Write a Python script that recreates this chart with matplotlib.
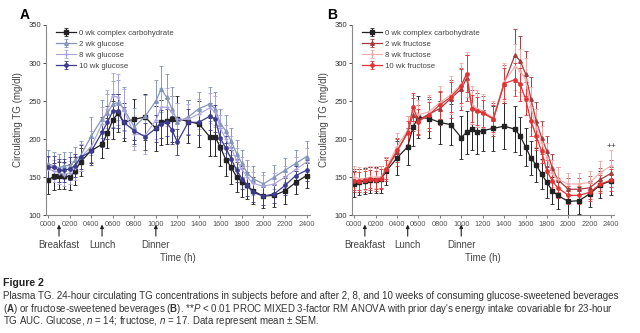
import numpy as np
import matplotlib
matplotlib.use("Agg")
import matplotlib.pyplot as plt
from matplotlib.transforms import blended_transform_factory

plt.rcParams["font.family"] = ["Liberation Sans", "DejaVu Sans"]
plt.rcParams["mathtext.fontset"] = "custom"
plt.rcParams["mathtext.rm"] = "Liberation Sans"
plt.rcParams["mathtext.it"] = "Liberation Sans:italic"
plt.rcParams["mathtext.bf"] = "Liberation Sans:bold"

# sample times (h after start)
times_a = [0, 0.5, 1, 1.5, 2, 2.5, 3, 4, 5, 5.5, 6, 6.5, 7, 8, 9, 10, 10.5, 11, 11.5, 12,
           13, 14, 15, 15.5, 16, 16.5, 17, 17.5, 18, 18.5, 19, 20, 21, 22, 23, 24]
times_b = [0, 0.5, 1, 1.5, 2, 2.5, 3, 4, 5, 5.5, 6, 7, 8, 9, 10, 10.5, 11, 11.5, 12,
           13, 14, 15, 15.5, 16, 16.5, 17, 17.5, 18, 18.5, 19, 20, 21, 22, 23, 24]

# panel A: glucose
a_0wk = [146, 151, 152, 152, 150, 158, 170, 185, 193, 208, 225, 234, 222, 226, 229, 214, 222, 224,
         226, 227, 223, 220, 203, 203, 189, 173, 163, 150, 144, 139, 132, 125, 126, 132, 143, 152]
a_0wk_sem = [18, 18, 18, 18, 17, 18, 18, 17, 18, 20, 25, 25, 25, 27, 30, 30, 30, 30, 30, 30,
             28, 30, 25, 25, 25, 22, 22, 20, 20, 18, 18, 15, 15, 17, 15, 17]
a_2wk = [167, 165, 162, 165, 165, 172, 178, 204, 227, 234, 246, 248, 240, 216, 230, 250, 266, 255,
         240, 222, 229, 240, 246, 240, 220, 211, 197, 181, 168, 155, 148, 141, 150, 159, 168, 177]
a_2wk_sem = [18, 18, 18, 18, 18, 18, 20, 25, 25, 25, 30, 30, 28, 25, 28, 28, 30, 30, 28, 25,
             22, 22, 22, 22, 20, 20, 18, 18, 18, 17, 17, 16, 16, 16, 18, 20]
a_8wk = [161, 158, 156, 153, 156, 162, 176, 190, 220, 240, 257, 255, 238, 207, 205, 225, 242, 242,
         235, 226, 226, 233, 241, 236, 214, 200, 188, 172, 160, 150, 142, 138, 141, 150, 160, 170]
a_8wk_sem = [15, 15, 15, 15, 15, 16, 18, 20, 22, 25, 30, 30, 28, 22, 25, 25, 25, 25, 22, 22,
             20, 20, 20, 20, 18, 18, 16, 16, 16, 15, 15, 15, 15, 15, 16, 18]
a_10wk = [163, 163, 159, 159, 161, 165, 176, 184, 209, 222, 237, 237, 222, 211, 203, 214, 220, 222,
          212, 196, 222, 222, 230, 227, 201, 188, 174, 159, 148, 139, 130, 125, 128, 139, 152, 159]
a_10wk_sem = [15, 15, 15, 15, 15, 15, 16, 18, 20, 22, 22, 22, 20, 18, 18, 18, 18, 18, 18, 17,
              17, 17, 18, 18, 16, 16, 15, 15, 14, 14, 13, 12, 12, 12, 13, 14]

# panel B: fructose
b_0wk = [141, 144, 145, 146, 146, 147, 158, 175, 190, 216, 229, 227, 222, 219, 202, 209, 213, 209,
         211, 214, 217, 213, 204, 190, 175, 166, 154, 143, 132, 126, 118, 119, 128, 140, 145]
b_0wk_sem = [17, 17, 17, 17, 17, 18, 18, 22, 24, 25, 28, 26, 28, 27, 28, 28, 27, 28, 27, 30,
             30, 30, 25, 25, 22, 22, 20, 20, 18, 18, 18, 18, 17, 18, 18]
b_2wk = [146, 145, 146, 148, 147, 149, 160, 183, 210, 232, 225, 233, 240, 253, 266, 280, 242, 238,
         235, 226, 273, 310, 303, 286, 253, 224, 202, 184, 162, 147, 134, 134, 136, 147, 155]
b_2wk_sem = [15, 15, 15, 15, 15, 15, 15, 18, 20, 22, 20, 22, 22, 25, 28, 30, 22, 22, 22, 22,
             25, 35, 32, 30, 28, 25, 22, 20, 18, 16, 15, 15, 15, 15, 18]
b_8wk = [150, 148, 148, 150, 150, 150, 162, 190, 212, 238, 232, 236, 248, 258, 272, 285, 245, 240,
         237, 228, 275, 295, 290, 278, 242, 215, 195, 175, 155, 147, 141, 141, 143, 156, 165]
b_8wk_sem = [15, 15, 15, 15, 15, 15, 15, 18, 18, 20, 20, 22, 22, 25, 28, 30, 25, 24, 22, 22,
             25, 30, 28, 28, 26, 25, 22, 20, 18, 16, 15, 15, 15, 15, 20]
b_10wk = [145, 145, 146, 147, 146, 148, 160, 185, 208, 242, 223, 232, 245, 255, 270, 286, 240, 237,
          234, 227, 273, 278, 272, 253, 224, 204, 184, 158, 145, 136, 126, 126, 130, 141, 146]
b_10wk_sem = [12, 12, 12, 12, 12, 12, 12, 15, 16, 18, 16, 17, 18, 20, 22, 24, 18, 18, 18, 18,
              20, 22, 22, 22, 20, 18, 16, 15, 14, 13, 12, 12, 12, 12, 14]

hour_ticks = list(range(0, 25, 2))
hour_labels = ["%02d00" % h for h in hour_ticks]
meals = [("Breakfast", 1), ("Lunch", 5), ("Dinner", 10)]

fig = plt.figure(figsize=(6.4, 3.33), dpi=100)
ax_a = fig.add_axes([0.072, 0.354, 0.412, 0.571])
ax_b = fig.add_axes([0.550, 0.354, 0.410, 0.571])


def draw_series(ax, t, v, sem, color, marker, label, ms=3, lw=0.9, mfc=None):
    ax.errorbar(t, v, yerr=sem, color=color, marker=marker, ms=ms, lw=lw,
                mfc=mfc if mfc else color, mec=color, elinewidth=0.7, capsize=1.6,
                capthick=0.6, label=label)


def style_axes(ax):
    ax.set_xlim(-0.2, 24.3)
    ax.set_ylim(100, 350)
    ax.set_yticks([100, 150, 200, 250, 300, 350])
    ax.set_xticks(hour_ticks)
    ax.set_xticklabels(hour_labels)
    for s in ("top", "right"):
        ax.spines[s].set_visible(False)
    for s in ("left", "bottom"):
        ax.spines[s].set_color("#888888")
        ax.spines[s].set_linewidth(0.8)
    ax.tick_params(axis="x", labelsize=5.3, length=2, width=0.6, pad=2.5, colors="#666666")
    ax.tick_params(axis="y", labelsize=5.5, length=2, width=0.6, pad=1.5, colors="#333333")
    for lab in ax.get_xticklabels():
        lab.set_color("#555555")
    ax.set_ylabel("Circulating TG (mg/dl)", fontsize=7, color="#444444", labelpad=4)
    tr = blended_transform_factory(ax.transData, ax.transAxes)
    for name, t in meals:
        ax.annotate("", xy=(t, -0.035), xytext=(t, -0.125), xycoords=tr, textcoords=tr,
                    arrowprops=dict(arrowstyle="-|>", color="#222222", lw=0.8,
                                    mutation_scale=5))
        ax.text(t, -0.155, name, transform=tr, ha="center", va="center",
                fontsize=7, color="#444444")
    ax.text(0.5, -0.228, "Time (h)", transform=ax.transAxes, ha="center", va="center",
            fontsize=7, color="#444444")
    leg = ax.legend(loc="upper left", bbox_to_anchor=(0.02, 1.0), frameon=False,
                    fontsize=5.6, handlelength=2.6, handletextpad=0.4, labelspacing=0.45,
                    borderaxespad=0.2)
    for txt in leg.get_texts():
        txt.set_color("#444444")


# panel A
draw_series(ax_a, times_a, a_0wk, a_0wk_sem, "#222222", "s", "0 wk complex carbohydrate", ms=3.2)
draw_series(ax_a, times_a, a_2wk, a_2wk_sem, "#8597b8", "^", "2 wk glucose", ms=2.6)
draw_series(ax_a, times_a, a_8wk, a_8wk_sem, "#aaa4dc", "+", "8 wk glucose", ms=3, lw=0.8)
draw_series(ax_a, times_a, a_10wk, a_10wk_sem, "#3d3b8e", "o", "10 wk glucose", ms=2.4)
style_axes(ax_a)

# panel B
draw_series(ax_b, times_b, b_0wk, b_0wk_sem, "#222222", "s", "0 wk complex carbohydrate", ms=3.2)
draw_series(ax_b, times_b, b_2wk, b_2wk_sem, "#a83a3e", "^", "2 wk fructose", ms=2.6)
draw_series(ax_b, times_b, b_8wk, b_8wk_sem, "#f2aaa8", "+", "8 wk fructose", ms=3, lw=0.8)
draw_series(ax_b, times_b, b_10wk, b_10wk_sem, "#e23434", "o", "10 wk fructose", ms=2.4)
style_axes(ax_b)
ax_b.text(24, 190, "++", ha="center", va="center", fontsize=6, color="#333333")

fig.text(0.031, 0.955, "A", fontsize=10, fontweight="bold", ha="left", va="center")
fig.text(0.511, 0.955, "B", fontsize=10, fontweight="bold", ha="left", va="center")

# caption
fig.text(0.004, 0.150, "Figure 2", fontsize=7.6, fontweight="bold", color="#222222",
         ha="left", va="center")
cap1 = ("Plasma TG. 24-hour circulating TG concentrations in subjects before and after 2, 8, "
        "and 10 weeks of consuming glucose-sweetened beverages")
cap2 = (r"($\mathbf{A}$) or fructose-sweetened beverages ($\mathbf{B}$). **$\mathit{P}$ < 0.01 "
        "PROC MIXED 3-factor RM ANOVA with prior day's energy intake covariable for 23-hour")
cap3 = (r"TG AUC. Glucose, $\mathit{n}$ = 14; fructose, $\mathit{n}$ = 17. "
        "Data represent mean ± SEM.")
for i, c in enumerate([cap1, cap2, cap3]):
    fig.text(0.004, 0.111 - i * 0.038, c, fontsize=7.0, color="#333333",
             ha="left", va="center")

fig.savefig("out.png", dpi=100)
